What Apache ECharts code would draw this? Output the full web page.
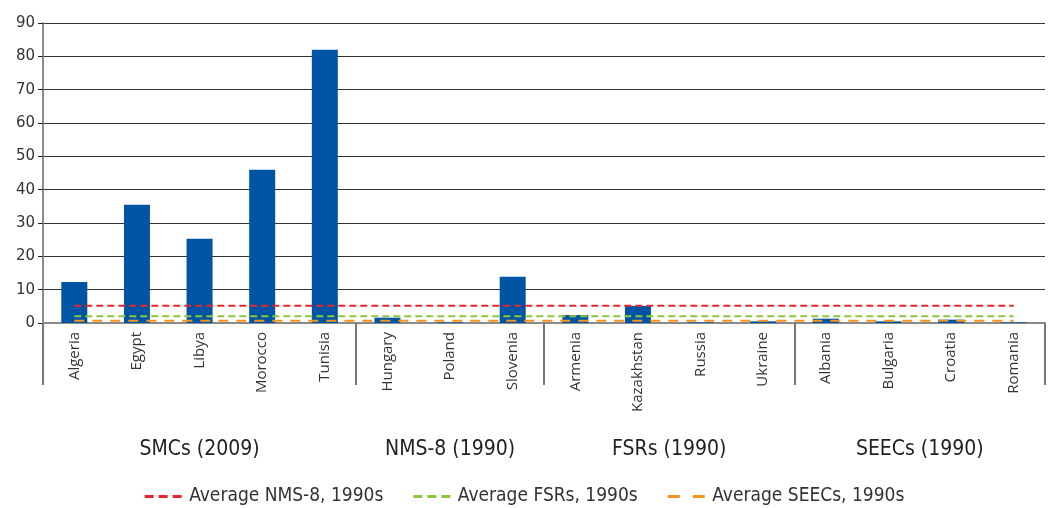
<!DOCTYPE html>
<html>
<head>
<meta charset="utf-8">
<script src="https://cdn.jsdelivr.net/npm/echarts@6/dist/echarts.min.js"></script>
<style>
  html, body { margin: 0; padding: 0; background: #fff; }
  #main { width: 1049px; height: 508px; }
</style>
</head>
<body>
<div id="main"></div>
<script>
// categories and values
var countries = ['Algeria', 'Egypt', 'Libya', 'Morocco', 'Tunisia',
  'Hungary', 'Poland', 'Slovenia',
  'Armenia', 'Kazakhstan', 'Russia', 'Ukraine',
  'Albania', 'Bulgaria', 'Croatia', 'Romania'];
var values = [12.3, 35.5, 25.3, 46, 82, 1.6, 0.2, 13.9, 2.4, 5.1, 0.2, 0.5, 1.3, 0.5, 1.0, 0.2];
var groups = ['SMCs (2009)', 'NMS-8 (1990)', 'FSRs (1990)', 'SEECs (1990)'];
var groupEdges = [0, 5, 8, 12, 16];   // category index where each group starts/ends
var avgNames = ['Average NMS-8, 1990s', 'Average FSRs, 1990s', 'Average SEECs, 1990s'];
var avgValues = [5.2, 2.0, 0.7];
var yTicks = [0, 10, 20, 30, 40, 50, 60, 70, 80, 90];

var chart = echarts.init(document.getElementById('main'));
var condensed = '"Liberation Sans Narrow", "DejaVu Sans Condensed", sans-serif';

// centre of each group on the value axis
var groupMid = [];
for (var i = 0; i < groups.length; i++) {
  groupMid.push((groupEdges[i] + groupEdges[i + 1]) / 2);
}

var avgColors = ['#e8242b', '#8cc63e', '#f7941d'];
var avgDash = [[7, 4], [7, 4], [10, 8]];
// legend icons: short dashes like the lines
var shortDash = 'path://M0,0h9v3h-9z M14,0h9v3h-9z M28,0h9v3h-9z';
var longDash = 'path://M0,0h12v3h-12z M25,0h12v3h-12z';
var avgIcons = [shortDash, shortDash, longDash];

var series = [{
  name: 'value',
  type: 'bar',
  data: values,
  barWidth: 26,
  itemStyle: { color: '#0054a4' },
  z: 2
}];
avgNames.forEach(function (n, k) {
  series.push({
    name: n,
    type: 'line',
    data: [[countries[0], avgValues[k]], [countries[countries.length - 1], avgValues[k]]],
    symbol: 'none',
    lineStyle: { color: avgColors[k], width: 2, type: avgDash[k] },
    itemStyle: { color: avgColors[k] },
    z: 3
  });
});

chart.setOption({
  animation: false,
  textStyle: { fontFamily: '"DejaVu Sans", sans-serif' },
  grid: { left: 43, right: 4, top: 23, bottom: 185 },
  legend: {
    data: avgNames.map(function (n, k) { return { name: n, icon: avgIcons[k] }; }),
    bottom: -3,
    left: 'center',
    itemWidth: 42,
    itemHeight: 3,
    itemGap: 30,
    textStyle: { fontSize: 19, color: '#333', fontFamily: condensed }
  },
  xAxis: [{
    type: 'category',
    data: countries,
    axisLine: { lineStyle: { color: '#8a8a8a', width: 2 } },
    axisTick: { length: 8, lineStyle: { color: '#666' } },
    axisLabel: {
      rotate: 90,
      margin: 9,
      fontSize: 15,
      color: '#333',
      fontFamily: '"Open Sans", sans-serif'
    }
  }, {
    type: 'value',
    min: 0,
    max: countries.length,
    position: 'bottom',
    axisLine: { show: false },
    splitLine: { show: false },
    axisTick: {
      show: true,
      length: 62,
      customValues: groupEdges,
      lineStyle: { color: '#777', width: 2 }
    },
    axisLabel: {
      margin: 116,
      fontSize: 21,
      color: '#222',
      fontFamily: condensed,
      customValues: groupMid,
      formatter: function (v) {
        var idx = groupMid.indexOf(v);
        return idx >= 0 ? groups[idx] : '';
      }
    }
  }],
  yAxis: {
    type: 'value',
    min: yTicks[0],
    max: yTicks[yTicks.length - 1],
    interval: 10,
    axisLine: { show: true, lineStyle: { color: '#8a8a8a', width: 2 } },
    axisTick: { show: true, length: 5, lineStyle: { color: '#222' } },
    axisLabel: { fontSize: 15, color: '#333', margin: 8 },
    splitLine: { lineStyle: { color: '#333', width: 1 } }
  },
  series: series
});
</script>
</body>
</html>
